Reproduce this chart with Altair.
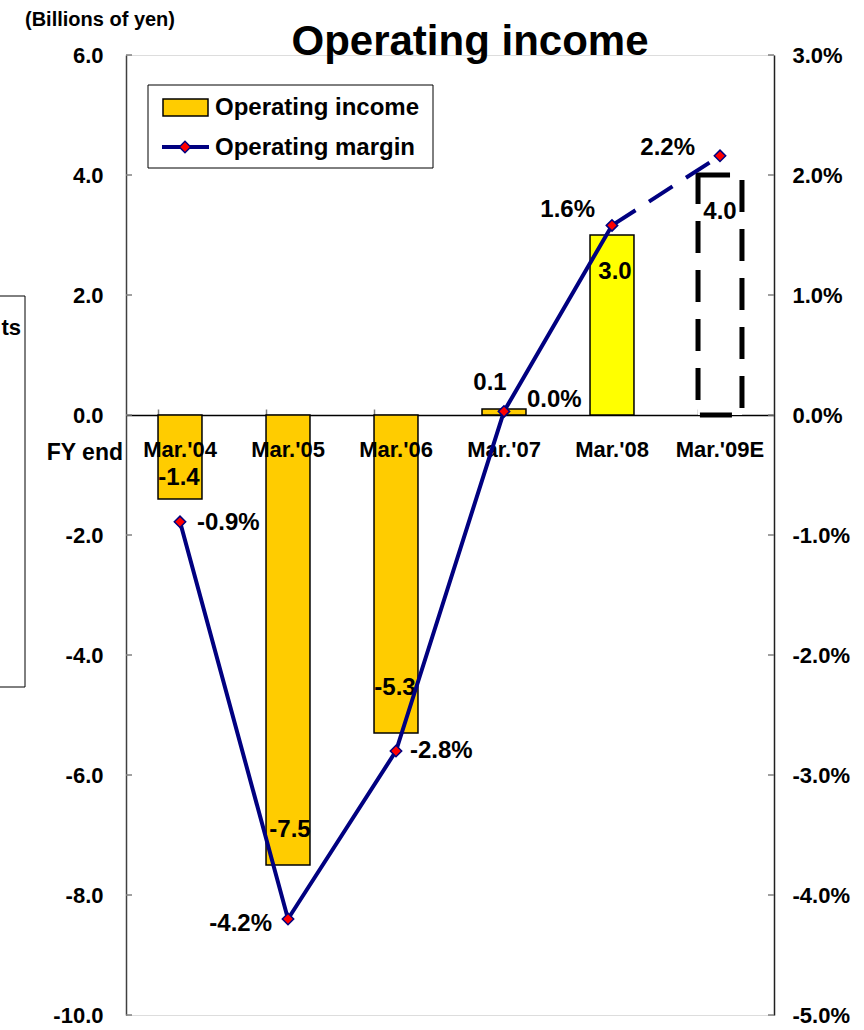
import altair as alt
import pandas as pd

# ---------------- data ----------------
categories = ["Mar.'04", "Mar.'05", "Mar.'06", "Mar.'07", "Mar.'08", "Mar.'09E"]
income = [-1.4, -7.5, -5.3, 0.1, 3.0, 4.0]          # billions of yen
margin = [-0.89, -4.2, -2.8, 0.03, 1.58, 2.16]      # percent
left_ticks = [-10, -8, -6, -4, -2, 0, 2, 4, 6]
right_ticks = [-5, -4, -3, -2, -1, 0, 1, 2, 3]

df = pd.DataFrame({"cat": categories, "income": income, "margin": margin,
                   "idx": list(range(len(categories)))})
one = pd.DataFrame({"a": [0]})

FONT = "Liberation Sans"
NAVY = "#000080"

# ---------------- scales / axes ----------------
xscale = alt.Scale(domain=categories, paddingInner=0.593, paddingOuter=0.2965)
xaxis = alt.Axis(orient="top", offset=-360, labels=False, title=None,
                 domainColor="#000000", domainWidth=1.5, ticks=True, tickSize=6,
                 tickColor="#808080", tickWidth=1.5, bandPosition=0, grid=False)


def X():
    return alt.X("cat:N", sort=categories, scale=xscale, axis=xaxis)


inc_scale = alt.Scale(domain=[-10, 6], nice=False, zero=False)
left_axis = alt.Axis(orient="left", values=left_ticks, title=None, grid=False,
                     labelExpr="(datum.value < 0 ? '-' : '') + format(abs(datum.value), '.1f')",
                     labelFont=FONT, labelFontSize=22, labelFontWeight="bold",
                     labelColor="#000000", ticks=False, tickSize=0, labelPadding=23,
                     domainColor="#404040", domainWidth=1.5)


def YI(field="income"):
    return alt.Y(f"{field}:Q", scale=inc_scale, axis=left_axis)


mar_scale = alt.Scale(domain=[-5, 3], nice=False, zero=False)
right_axis = alt.Axis(orient="right", values=right_ticks, title=None, grid=False,
                      labelExpr="(datum.value < 0 ? '-' : '') + format(abs(datum.value), '.1f') + '%'",
                      labelFont=FONT, labelFontSize=22, labelFontWeight="bold",
                      labelColor="#000000", ticks=False, tickSize=0, labelPadding=18,
                      domainColor="#202020", domainWidth=1.5)


def YM(field="margin"):
    return alt.Y(f"{field}:Q", scale=mar_scale, axis=right_axis)


fmt = "(datum.{f} < 0 ? '-' : '') + format(abs(datum.{f}), '.1f')"

# ---------------- left (income) group ----------------
bars = alt.Chart(df).transform_filter("datum.idx < 5").mark_bar(
    stroke="black", strokeWidth=1.5
).encode(
    x=X(), y=YI(), y2=alt.datum(0),
    fill=alt.Fill("cat:N", scale=alt.Scale(domain=categories[:5],
                  range=["#FFCC00", "#FFCC00", "#FFCC00", "#FFCC00", "#FFFF00"]),
                  legend=None),
)

bar_fc = alt.Chart(df).transform_filter("datum.idx == 5").mark_bar(
    fill="white", stroke="black", strokeWidth=5, strokeDash=[32, 17]
).encode(x=X(), y=YI(), y2=alt.datum(0))

left_tick_rules = alt.Chart(pd.DataFrame({"v": left_ticks})).mark_rule(
    color="#808080", strokeWidth=1.5
).encode(y=YI("v"), x=alt.value(0), x2=alt.value(6))

bar_label_style = {
    "Mar.'04": (-1, -21), "Mar.'05": (2, -35), "Mar.'06": (-1, -45),
    "Mar.'07": (-14, -26), "Mar.'08": (3, 37), "Mar.'09E": (0, 37),
}
bar_labels = []
for c, (dx, dy) in bar_label_style.items():
    bar_labels.append(
        alt.Chart(df).transform_filter(alt.datum.cat == c)
        .transform_calculate(lab=fmt.format(f="income"))
        .mark_text(dx=dx, dy=dy, font=FONT, fontSize=24, fontWeight="bold",
                   align="center", baseline="middle", color="black")
        .encode(x=X(), y=YI(), text="lab:N")
    )

cat_labels = alt.Chart(df).transform_calculate(z="0").mark_text(
    dy=35, font=FONT, fontSize=22, fontWeight="bold", align="center",
    baseline="middle", color="black"
).encode(x=X(), y=YI("z"), text="cat:N")

fy_end = alt.Chart(one).transform_calculate(z="0").mark_text(
    dy=38, font=FONT, fontSize=23, fontWeight="bold", align="right",
    baseline="middle", color="black"
).encode(x=alt.value(-3), y=YI("z"), text=alt.value("FY end"))

left_group = alt.layer(bars, bar_fc, left_tick_rules, *bar_labels, cat_labels, fy_end)

# ---------------- right (margin) group ----------------
line_solid = alt.Chart(df).transform_filter("datum.idx <= 4").mark_line(
    color=NAVY, strokeWidth=4
).encode(x=X(), y=YM(), order="idx:Q")

line_dash = alt.Chart(df).transform_filter("datum.idx >= 4").mark_line(
    color=NAVY, strokeWidth=4, strokeDash=[28, 16]
).encode(x=X(), y=YM(), order="idx:Q")

points = alt.Chart(df).mark_point(
    shape="diamond", filled=True, fill="#FF0000", stroke=NAVY, strokeWidth=1.5,
    size=130, opacity=1, fillOpacity=1
).encode(x=X(), y=YM())

right_tick_rules = alt.Chart(pd.DataFrame({"v": right_ticks})).mark_rule(
    color="#808080", strokeWidth=1.5
).encode(y=YM("v"), x=alt.value(642), x2=alt.value(648))

margin_label_style = {
    "Mar.'04": ("left", 17, 1), "Mar.'05": ("right", -16, 5),
    "Mar.'06": ("left", 14, 0), "Mar.'07": ("left", 23, -11),
    "Mar.'08": ("right", -17, -15), "Mar.'09E": ("right", -25, -8),
}
margin_labels = []
for c, (al, dx, dy) in margin_label_style.items():
    margin_labels.append(
        alt.Chart(df).transform_filter(alt.datum.cat == c)
        .transform_calculate(lab=fmt.format(f="margin") + " + '%'")
        .mark_text(dx=dx, dy=dy, align=al, font=FONT, fontSize=24,
                   fontWeight="bold", baseline="middle", color="black")
        .encode(x=X(), y=YM(), text="lab:N")
    )

right_group = alt.layer(right_tick_rules, line_solid, line_dash, points, *margin_labels)

# ---------------- decorations (title, legend, side box) ----------------
def txt(s, x, y, size, align="center", baseline="middle"):
    return alt.Chart(one).mark_text(
        font=FONT, fontSize=size, fontWeight="bold", align=align,
        baseline=baseline, color="black"
    ).encode(x=alt.value(x), y=alt.value(y), text=alt.value(s))


title = txt("Operating income", 344, 0, 42, baseline="alphabetic")
units = txt("(Billions of yen)", -26, -35, 20)

side_box = alt.Chart(one).mark_rect(fill="transparent", stroke="black", strokeWidth=1).encode(
    x=alt.value(-127), x2=alt.value(-101), y=alt.value(241), y2=alt.value(632))
side_text = txt("ts", -105, 273, 22, align="right")

leg_box = alt.Chart(one).mark_rect(fill="white", stroke="black", strokeWidth=1).encode(
    x=alt.value(22), x2=alt.value(307), y=alt.value(30), y2=alt.value(113))
leg_swatch = alt.Chart(one).mark_rect(fill="#FFCC00", stroke="black", strokeWidth=1.5).encode(
    x=alt.value(37), x2=alt.value(82), y=alt.value(44), y2=alt.value(61))
leg_t1 = txt("Operating income", 89, 53, 24, align="left")
leg_line = alt.Chart(one).mark_rule(color=NAVY, strokeWidth=4).encode(
    x=alt.value(36), x2=alt.value(83), y=alt.value(92))
leg_pt = alt.Chart(one).mark_point(
    shape="diamond", filled=True, fill="#FF0000", stroke=NAVY, strokeWidth=1.5,
    size=130, opacity=1, fillOpacity=1
).encode(x=alt.value(59), y=alt.value(92))
leg_t2 = txt("Operating margin", 89, 93, 24, align="left")

chart = alt.layer(
    left_group, right_group,
    title, units, side_box, side_text,
    leg_box, leg_swatch, leg_t1, leg_line, leg_pt, leg_t2,
).resolve_scale(y="independent").properties(
    width=648, height=960,
    autosize=alt.AutoSizeParams(type="none"),
    padding={"left": 126, "top": 55, "right": 90, "bottom": 15},
).configure_view(stroke=None).configure(font=FONT, background="white")

chart.save("out.html", embed_options={"renderer": "svg", "actions": False})
